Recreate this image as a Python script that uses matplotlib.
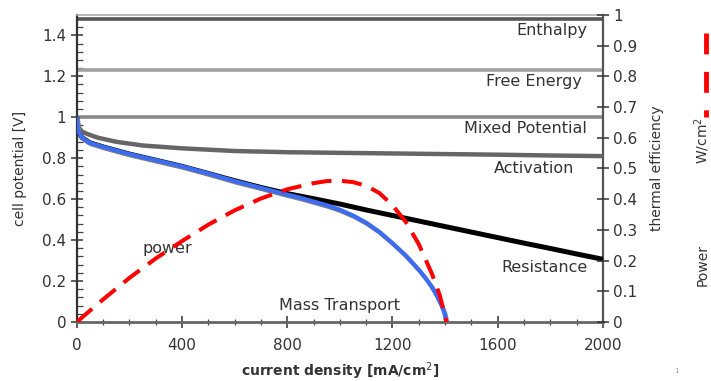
import matplotlib
matplotlib.use("Agg")
import matplotlib.pyplot as plt
import matplotlib.patheffects as pe
from matplotlib.lines import Line2D
from matplotlib.ticker import MultipleLocator

plt.rcParams['font.family'] = ['DejaVu Sans']

# Reference potentials [V]
enthalpy_v = 1.48
free_energy_v = 1.23
mixed_potential_v = 1.0

# Activation-loss curve
act_i = [0, 5, 10, 20, 40, 80, 150, 250, 400, 600, 800, 1000, 1200, 1400, 1600, 1800, 2000]
act_v = [1.00, 0.965, 0.945, 0.93, 0.918, 0.90, 0.88, 0.862, 0.848, 0.835, 0.829, 0.826,
         0.823, 0.82, 0.817, 0.813, 0.81]

# Activation + ohmic (resistance) loss curve
res_i = [0, 3, 8, 20, 50, 100, 200, 300, 400, 500, 600, 700, 800, 900, 1000, 1100,
         1200, 1300, 1400, 1500, 1600, 1700, 1800, 1900, 2000]
res_v = [1.00, 0.955, 0.925, 0.90, 0.875, 0.855, 0.82, 0.79, 0.76, 0.725, 0.69, 0.657,
         0.627, 0.602, 0.576, 0.547, 0.52, 0.493, 0.466, 0.439, 0.412, 0.385, 0.359,
         0.332, 0.306]

# Full polarisation curve including mass transport loss
mt_i = [0, 3, 8, 20, 50, 100, 200, 300, 400, 500, 600, 700, 800, 850, 900, 950, 1000,
        1050, 1100, 1150, 1200, 1250, 1300, 1325, 1350, 1370, 1385, 1397, 1405]
mt_v = [1.00, 0.955, 0.925, 0.90, 0.875, 0.855, 0.82, 0.79, 0.76, 0.725, 0.688, 0.655,
        0.622, 0.606, 0.588, 0.57, 0.548, 0.52, 0.485, 0.44, 0.385, 0.325, 0.255, 0.215,
        0.17, 0.125, 0.085, 0.045, 0.0]

# Power density (dashed curve)
pw_i = [0, 100, 200, 300, 400, 500, 600, 700, 800, 900, 950, 1000, 1050, 1100, 1150,
        1200, 1250, 1300, 1350, 1380, 1405]
pw_v = [0.0, 0.11, 0.215, 0.31, 0.395, 0.475, 0.545, 0.603, 0.648, 0.678, 0.688, 0.69,
        0.683, 0.665, 0.63, 0.57, 0.49, 0.38, 0.235, 0.13, 0.0]

x_ticks = [0, 400, 800, 1200, 1600, 2000]
y_ticks = [0, 0.2, 0.4, 0.6, 0.8, 1, 1.2, 1.4]
eff_ticks = [0, 0.1, 0.2, 0.3, 0.4, 0.5, 0.6, 0.7, 0.8, 0.9, 1]

text_c = '#333333'

fig = plt.figure(figsize=(7.11, 3.81), dpi=100)
ax = fig.add_axes([0.108, 0.155, 0.740, 0.806])

ax.axhline(enthalpy_v, color='#555555', lw=2.6, zorder=2)
ax.axhline(free_energy_v, color='#a0a0a0', lw=2.6, zorder=2)
ax.axhline(mixed_potential_v, color='#8a8a8a', lw=2.6, zorder=2)

ax.plot(act_i, act_v, color='#666666', lw=3.2, zorder=3, solid_capstyle='butt')
ax.plot(res_i, res_v, color='#000000', lw=3.6, zorder=3, solid_capstyle='butt')
ax.plot(mt_i, mt_v, color='#3b6cf2', lw=3.0, zorder=4, solid_capstyle='butt',
        path_effects=[pe.SimpleLineShadow(offset=(0.8, -1.0), shadow_color='#808080',
                                          alpha=1.0), pe.Normal()])
ax.plot(pw_i, pw_v, color='#ff0000', lw=2.9, zorder=5, dashes=(5, 2.6),
        solid_capstyle='butt', dash_capstyle='butt')

ax.set_xlim(0, 2000)
ax.set_ylim(0, 1.5)
ax.set_xticks(x_ticks)
ax.set_xticklabels([str(v) for v in x_ticks])
ax.set_yticks(y_ticks)
ax.set_yticklabels(['0', '0.2', '0.4', '0.6', '0.8', '1', '1.2', '1.4'])
ax.xaxis.set_minor_locator(MultipleLocator(100))
ax.yaxis.set_minor_locator(MultipleLocator(0.04))

ax.tick_params(axis='both', which='major', direction='inout', length=9, width=1.1,
               color='#333333', labelsize=11, labelcolor=text_c, pad=3)
ax.tick_params(axis='y', which='minor', direction='in', length=4, width=0.9, color='#444444')
ax.tick_params(axis='x', which='minor', direction='inout', length=5, width=0.9, color='#444444')
ax.tick_params(axis='x', which='major', pad=7)

ax.spines['left'].set_color('#333333')
ax.spines['left'].set_linewidth(1.6)
ax.spines['bottom'].set_color('#666666')
ax.spines['bottom'].set_linewidth(2.0)
ax.spines['right'].set_color('#555555')
ax.spines['right'].set_linewidth(1.6)
ax.spines['top'].set_color('#aaaaaa')
ax.spines['top'].set_linewidth(1.2)

ax.set_ylabel('cell potential [V]', fontsize=10, color=text_c)
ax.yaxis.set_label_coords(-0.095, 0.5)
ax.set_xlabel('current density [mA/cm$^2$]', fontsize=10, fontweight='bold',
              color=text_c)
ax.xaxis.set_label_coords(0.5, -0.124)

ax2 = ax.twinx()
ax2.set_ylim(0, 1)
ax2.set_yticks(eff_ticks)
ax2.set_yticklabels(['0', '0.1', '0.2', '0.3', '0.4', '0.5', '0.6', '0.7', '0.8', '0.9', '1'])
ax2.tick_params(axis='y', direction='inout', length=9, width=1.1, color='#333333',
                labelsize=11, labelcolor=text_c, pad=3)
ax2.set_ylabel('thermal efficiency', fontsize=10, color=text_c)
ax2.yaxis.set_label_coords(1.089, 0.5)
for s in ax2.spines.values():
    s.set_visible(False)

lab = dict(fontsize=11.5, color=text_c)
ax.text(1940, 1.458, 'Enthalpy', ha='right', va='top', **lab)
ax.text(1920, 1.212, 'Free Energy', ha='right', va='top', **lab)
ax.text(1940, 0.982, 'Mixed Potential', ha='right', va='top', **lab)
ax.text(1890, 0.787, 'Activation', ha='right', va='top', **lab)
ax.text(1940, 0.302, 'Resistance', ha='right', va='top', **lab)
ax.text(1000, 0.118, 'Mass Transport', ha='center', va='top', **lab)
ax.text(345, 0.397, 'power', ha='center', va='top', **lab)

# Secondary power axis legend at the far right
fig.add_artist(Line2D([0.9935, 0.9935], [0.913, 0.693], transform=fig.transFigure,
                      color='#ff0000', lw=3.5, dashes=(4.3, 3.6)))
fig.text(0.988, 0.63, 'W/cm$^2$', rotation=90, ha='center', va='center',
         fontsize=10, color=text_c)
fig.text(0.988, 0.305, 'Power', rotation=90, ha='center', va='center',
         fontsize=10, color=text_c)
fig.text(0.951, 0.025, '1', fontsize=5, color='#999999', ha='center', va='center')

fig.savefig('out.png', dpi=100)
